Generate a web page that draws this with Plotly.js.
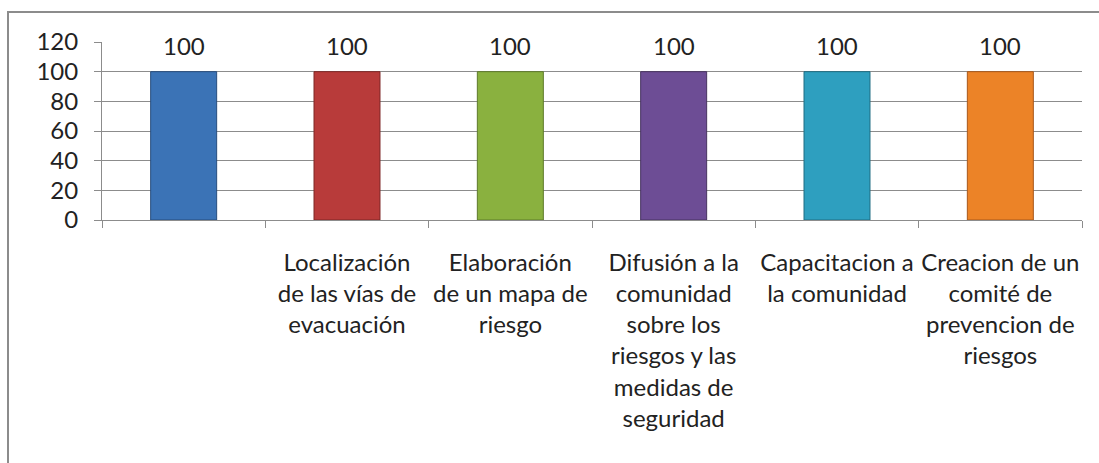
<!DOCTYPE html>
<html>
<head>
<meta charset="utf-8">
<script src="https://cdn.plot.ly/plotly-3.0.1.min.js"></script>
<style>
  html, body { margin: 0; padding: 0; background: #fff; }
  #wrap { position: relative; width: 1099px; height: 463px; overflow: hidden; }
  #chart { position: absolute; left: 0; top: 0; width: 1099px; height: 463px; }
  #frame { position: absolute; left: 7px; top: 11px; width: 1200px; height: 600px;
           border-left: 2px solid #8c8c8c; border-top: 2px solid #8c8c8c; pointer-events: none; }
</style>
</head>
<body>
<div id="wrap">
  <div id="chart"></div>
  <div id="frame"></div>
</div>
<script>
const categories = [
  "",
  "Localización<br>de las vías de<br>evacuación",
  "Elaboración<br>de un mapa de<br>riesgo",
  "Difusión a la<br>comunidad<br>sobre los<br>riesgos y las<br>medidas de<br>seguridad",
  "Capacitacion a<br>la comunidad",
  "Creacion de un<br>comité de<br>prevencion de<br>riesgos"
];
const categoryIds = ["c0", "c1", "c2", "c3", "c4", "c5"];
const values = [100, 100, 100, 100, 100, 100];
const barColors = ["#3B73B6", "#B83B3A", "#8AB13F", "#6D4D95", "#2E9FBF", "#EC8327"];
const barEdges = ["#264d7d", "#7d2625", "#5d7a29", "#47325f", "#1e6c82", "#a8571a"];
const yTicks = [0, 20, 40, 60, 80, 100, 120];

const FONT = "Lato, 'Open Sans', sans-serif";
const TXT = "#222222";

const trace = {
  type: "bar",
  x: categoryIds,
  y: values,
  marker: { color: barColors, line: { color: barEdges, width: 1 } },
  hoverinfo: "skip"
};

const annotations = categoryIds.map((c, i) => ({
  x: c, y: values[i], xref: "x", yref: "y",
  text: String(values[i]), showarrow: false,
  yanchor: "bottom", yshift: 10,
  font: { family: FONT, size: 24, color: TXT }
}));

const layout = {
  width: 1099, height: 463,
  margin: { l: 102, r: 17, t: 42, b: 243, pad: 0 },
  paper_bgcolor: "rgba(0,0,0,0)",
  plot_bgcolor: "#ffffff",
  showlegend: false,
  bargap: 0.596,
  font: { family: FONT, size: 24, color: TXT },
  xaxis: {
    type: "category",
    tickvals: categoryIds,
    ticktext: categories,
    tickangle: 0,
    tickson: "boundaries",
    ticks: "outside",
    ticklen: 7,
    tickcolor: "#8c8c8c",
    tickwidth: 1,
    showline: true,
    linecolor: "#8c8c8c",
    linewidth: 1,
    showgrid: false,
    zeroline: false,
    ticklabelstandoff: 21,
    tickfont: { family: FONT, size: 24, color: TXT },
    fixedrange: true
  },
  yaxis: {
    range: [0, 120],
    tickvals: yTicks,
    ticks: "outside",
    ticklen: 7,
    tickcolor: "#8c8c8c",
    tickwidth: 1,
    showline: true,
    linecolor: "#8c8c8c",
    linewidth: 1,
    showgrid: true,
    gridcolor: "#8c8c8c",
    gridwidth: 1,
    zeroline: false,
    ticklabelstandoff: 11,
    tickfont: { family: FONT, size: 24, color: TXT },
    fixedrange: true
  },
  annotations: annotations
};

Plotly.newPlot("chart", [trace], layout, { displayModeBar: false, staticPlot: true });
</script>
</body>
</html>
